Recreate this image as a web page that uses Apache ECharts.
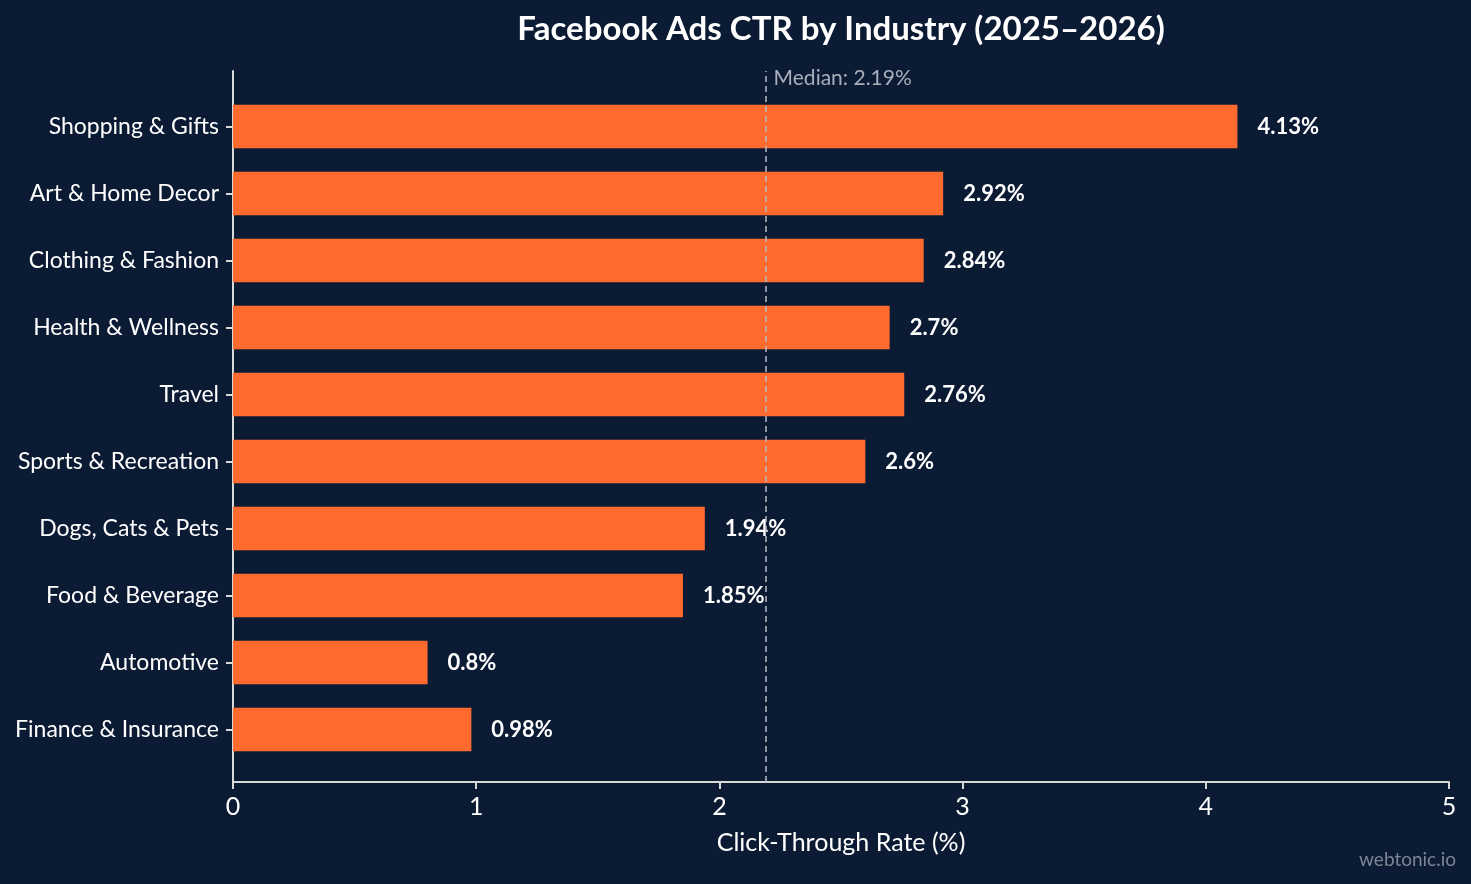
<!DOCTYPE html>
<html><head><meta charset="utf-8">
<script src="https://cdn.jsdelivr.net/npm/echarts@6/dist/echarts.min.js"></script>
<style>html,body{margin:0;padding:0;background:#0c1b34;}#c{width:1471px;height:884px;}</style>
</head><body><div id="c"></div>
<script>
const categories = ["Shopping & Gifts","Art & Home Decor","Clothing & Fashion","Health & Wellness","Travel","Sports & Recreation","Dogs, Cats & Pets","Food & Beverage","Automotive","Finance & Insurance"];
const ctrValues = [4.13,2.92,2.84,2.7,2.76,2.6,1.94,1.85,0.8,0.98];
const MEDIAN = 2.19;
const xTicks = [0,1,2,3,4,5];

const chart = echarts.init(document.getElementById('c'));
const font = 'Lato, "Noto Sans", sans-serif';
const axisCol = '#d9d9d9';
chart.setOption({
  backgroundColor: '#0c1b34',
  animation: false,
  title: {
    text: 'Facebook Ads CTR by Industry (2025\u20132026)',
    left: 836, top: 8, textAlign: 'center',
    textStyle: {color:'#ffffff', fontFamily: font, fontWeight:'bold', fontSize: 33}
  },
  grid: [
    {left: 233, right: 22, top: 71, bottom: 102},
    {left: 233, right: 22, top: 93, bottom: 121}
  ],
  xAxis: [{
    gridIndex: 0,
    type: 'value', min: xTicks[0], max: xTicks[xTicks.length-1], interval: 1,
    name: 'Click-Through Rate (%)', nameLocation: 'middle', nameGap: 48,
    nameTextStyle: {color:'#ffffff', fontFamily: font, fontSize: 25},
    axisLine: {show:true, lineStyle:{color:axisCol, width:2}},
    axisTick: {show:true, length:7, lineStyle:{color:axisCol, width:2}},
    axisLabel: {color:'#ffffff', fontFamily: font, fontSize: 25, margin: 12},
    splitLine: {show:false}
  },{
    gridIndex: 1,
    type: 'value', min: xTicks[0], max: xTicks[xTicks.length-1], interval: 1,
    show: false
  }],
  yAxis: [{
    gridIndex: 0, type: 'value', min: 0, max: 1,
    axisLine: {show:true, lineStyle:{color:axisCol, width:2}},
    axisTick: {show:false}, axisLabel: {show:false}, splitLine: {show:false}
  },{
    gridIndex: 1,
    type: 'category', data: categories, inverse: true,
    axisLine: {show:false},
    axisTick: {show:true, alignWithLabel:true, length:7, lineStyle:{color:axisCol, width:2}},
    axisLabel: {color:'#ffffff', fontFamily: font, fontSize: 23, margin: 14}
  }],
  series: [{
    type: 'bar', xAxisIndex: 1, yAxisIndex: 1, data: ctrValues, barCategoryGap: '35%',
    itemStyle: {color:'#ff6b2f'},
    label: {show:true, position:'right', distance: 20, formatter: p => p.value + '%',
      color:'#ffffff', fontFamily: font, fontWeight:'bold', fontSize: 22}
  },{
    type: 'line', xAxisIndex: 0, yAxisIndex: 0, data: [], silent: true,
    markLine: {
      silent: true, symbol: 'none',
      lineStyle: {color:'#b8bcc4', type:[6,4], width:1.5},
      label: {show:false},
      data: [{xAxis: MEDIAN}]
    }
  }]
});
const px = chart.convertToPixel({xAxisIndex:0}, MEDIAN);
chart.setOption({graphic: [
  {type:'text', left: px + 8, top: 68, style:{text:'Median: ' + MEDIAN + '%', fill:'#a9aebb', font: '21px ' + font}},
  {type:'text', right: 15, bottom: 15, style:{text:'webtonic.io', fill:'#7d8494', font: '19px ' + font}}
]});
</script></body></html>
